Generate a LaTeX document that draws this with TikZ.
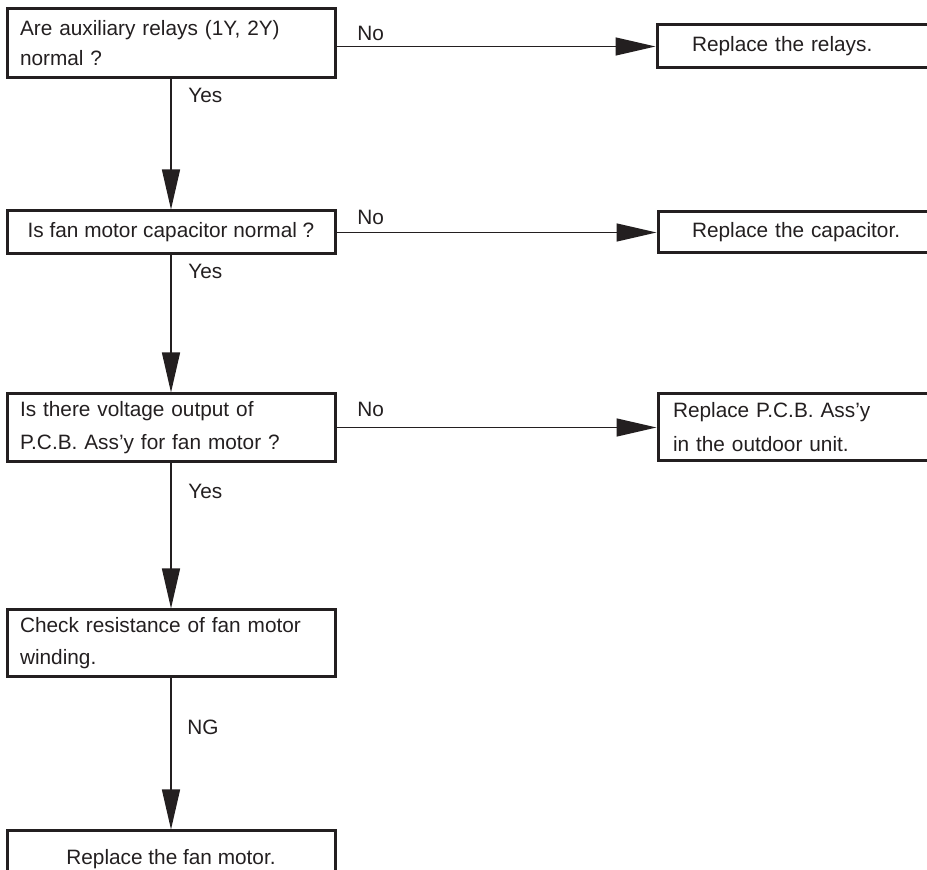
\documentclass[tikz,border=0pt]{standalone}
\usepackage{fontspec}
\setmainfont{Liberation Sans}
\usetikzlibrary{arrows.meta}
\definecolor{ink}{RGB}{35,31,32}
\begin{document}
\begin{tikzpicture}[x=0.5pt,y=-0.5pt,
  every node/.style={text=ink},
  box/.style={draw=ink, line width=1.5pt, rectangle, inner ysep=0pt},
  lbox/.style={box, align=left},
  cbox/.style={box, align=center},
  lab/.style={inner sep=0pt, font=\fontsize{10.4}{12}\selectfont},
  arr/.style={draw=ink, line width=0.7pt, -{Triangle[length=20pt,width=9pt]}}]
\useasboundingbox (0,0) rectangle (927,870);
\clip (0,0) rectangle (927,870);
% left column
\node[lbox, minimum height=34.5pt, inner xsep=6.5pt, text width=151pt,
      font=\fontsize{10.4}{15}\selectfont] (b1) at (171,43.5)
  {Are auxiliary relays (1Y, 2Y)\\normal ?};
\node[cbox, minimum height=21.5pt, minimum width=164pt,
      font=\fontsize{10.4}{15}\selectfont] (b2) at (171,232.5)
  {Is fan motor capacitor normal ?};
\node[lbox, minimum height=34pt, inner xsep=6.5pt, text width=151pt,
      font=\fontsize{10.4}{16.5}\selectfont] (b3) at (171,428)
  {Is there voltage output of\\P.C.B. Ass’y for fan motor ?};
\node[lbox, minimum height=33.5pt, inner xsep=6.5pt, text width=151pt,
      font=\fontsize{10.4}{16}\selectfont] (b4) at (171,643.5)
  {Check resistance of fan motor\\winding.};
\node[cbox, minimum height=28pt, minimum width=164pt,
      font=\fontsize{10.4}{15}\selectfont] (b5) at (171,859)
  {Replace the fan motor.};
% right column
\node[lbox, minimum height=21.5pt, inner xsep=17.5pt, text width=109pt,
      font=\fontsize{10.4}{15}\selectfont] (r1) at (801,46.5)
  {Replace the relays.};
\node[lbox, minimum height=20.5pt, inner xsep=17pt, text width=109.5pt,
      font=\fontsize{10.4}{15}\selectfont] (r2) at (801.5,232.5)
  {Replace the capacitor.};
\node[lbox, minimum height=33.5pt, inner xsep=7.5pt, text width=128.5pt,
      font=\fontsize{10.4}{17}\selectfont] (r3) at (801.5,427.5)
  {Replace P.C.B. Ass’y\\in the outdoor unit.};
% connectors
\draw[arr] (b1.south) -- (b2.north);
\draw[arr] (b2.south) -- (b3.north);
\draw[arr] (b3.south) -- (b4.north);
\draw[arr] (b4.south) -- (b5.north);
\draw[arr] (b1.east |- r1.west) -- (r1.west);
\draw[arr] (b2.east |- r2.west) -- (r2.west);
\draw[arr] (b3.east |- r3.west) -- (r3.west);
% labels
\node[lab, anchor=base west] (no1) at (357,41) {No};
\node[lab, anchor=base west] (no2) at (357,225) {No};
\node[lab, anchor=base west] (no3) at (357,417) {No};
\node[lab, anchor=base west] (yes1) at (188,103) {Yes};
\node[lab, anchor=base west] (yes2) at (188,279) {Yes};
\node[lab, anchor=base west] (yes3) at (188,499) {Yes};
\node[lab, anchor=base west] (ng) at (187,735) {NG};
\end{tikzpicture}
\end{document}
